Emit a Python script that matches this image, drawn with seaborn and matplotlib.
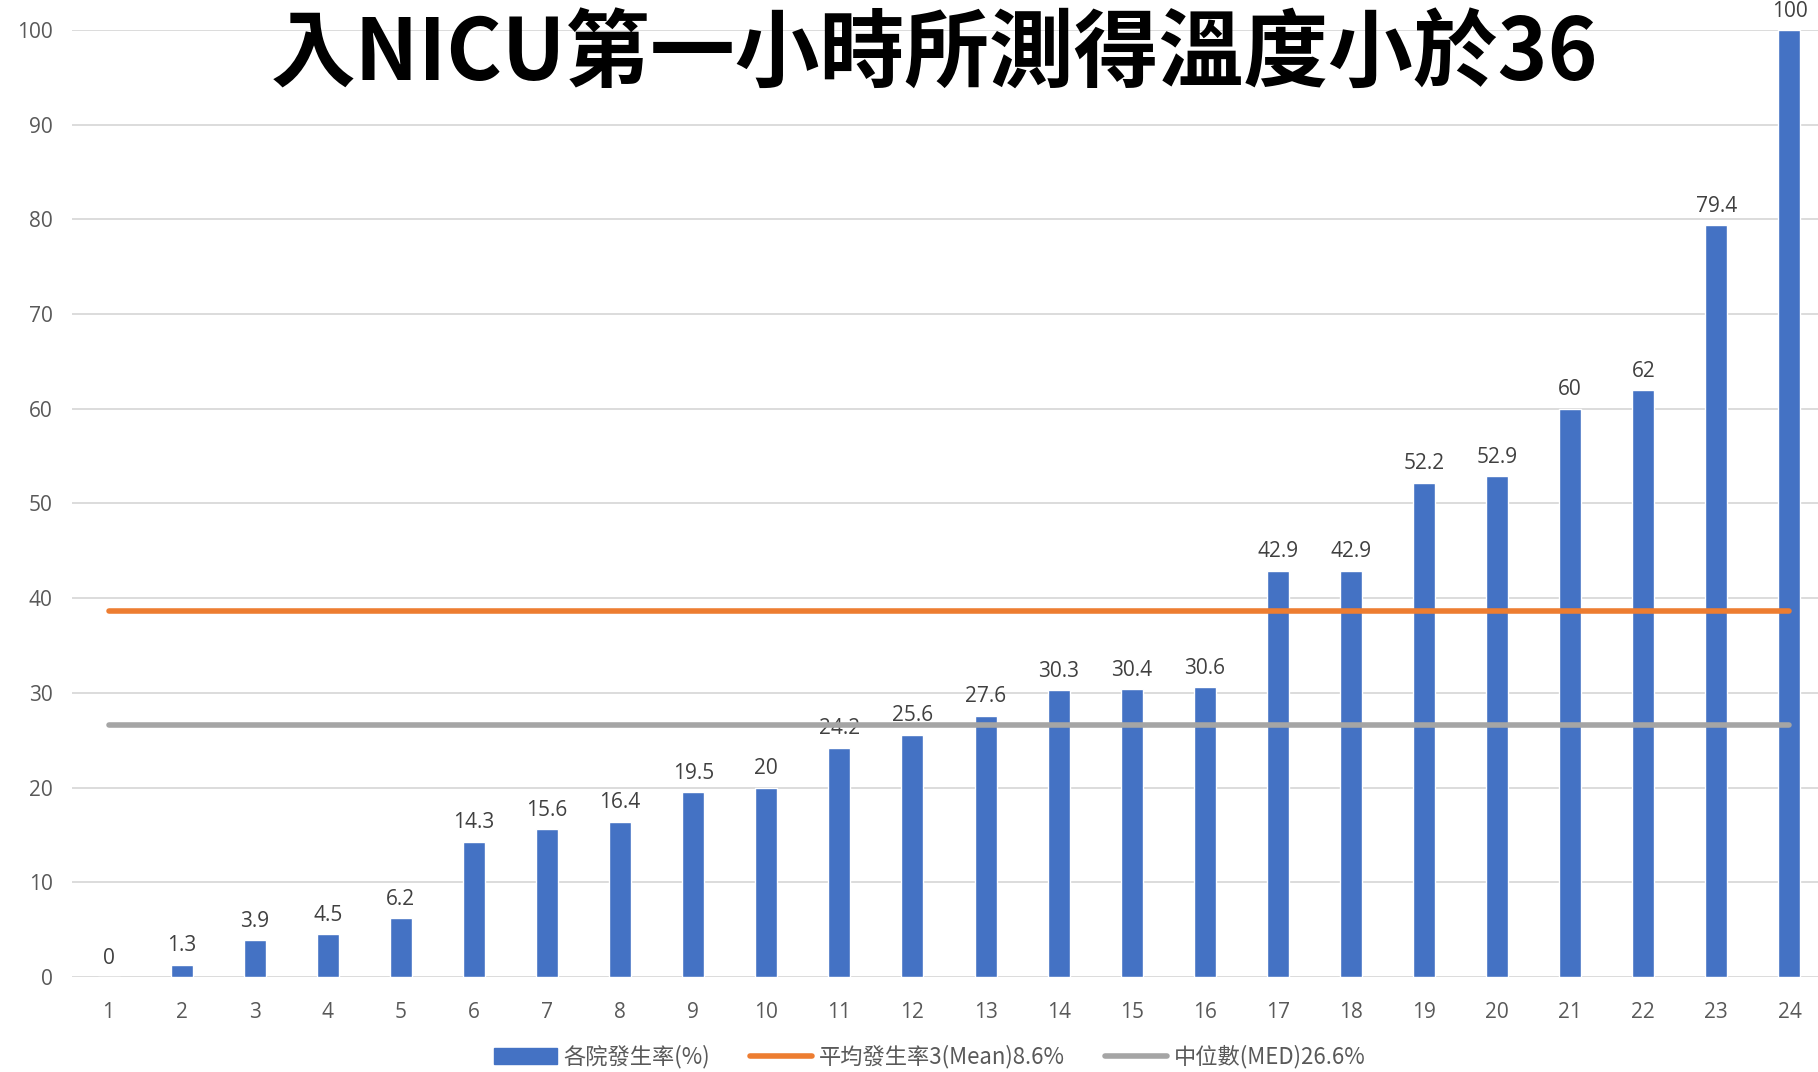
import matplotlib
matplotlib.use("Agg")
import matplotlib.pyplot as plt
import seaborn as sns
import pandas as pd
from matplotlib.patches import Patch
from matplotlib.lines import Line2D

categories = [str(i) for i in range(1, 25)]
rates = [0, 1.3, 3.9, 4.5, 6.2, 14.3, 15.6, 16.4, 19.5, 20, 24.2, 25.6, 27.6,
         30.3, 30.4, 30.6, 42.9, 42.9, 52.2, 52.9, 60, 62, 79.4, 100]
mean_rate = 38.6
median_rate = 26.6
title = "入NICU第一小時所測得溫度小於36"
legend_labels = ["各院發生率(%)", "平均發生率3(Mean)8.6%", "中位數(MED)26.6%"]

BLUE = "#4472C4"
ORANGE = "#ED7D31"
GRAY = "#A5A5A5"

sns.set_theme(style="white")
plt.rcParams["font.family"] = ["Noto Sans CJK TC", "DejaVu Sans"]

W, H = 1818, 1072
fig = plt.figure(figsize=(W / 100, H / 100), dpi=100)
left, right, top, bottom = 72, 1826, 30, 977
ax = fig.add_axes([left / W, 1 - bottom / H, (right - left) / W, (bottom - top) / H])

df = pd.DataFrame({"cat": categories, "rate": rates,
                   "mean": [mean_rate] * len(categories),
                   "median": [median_rate] * len(categories)})

sns.barplot(data=df, x="cat", y="rate", color=BLUE, width=0.30, ax=ax,
            saturation=1, zorder=3)
xs = list(range(len(categories)))
ax.plot(xs, df["mean"], color=ORANGE, lw=4, solid_capstyle="round", zorder=4)
ax.plot(xs, df["median"], color=GRAY, lw=4, solid_capstyle="round", zorder=4)

for x, v in zip(xs, rates):
    ax.annotate(f"{v:g}", (x, v), xytext=(0, 6), textcoords="offset points",
                ha="center", va="bottom", fontsize=15, color="#404040",
                family=["Open Sans", "DejaVu Sans"])

ax.set_xlim(-0.5, len(categories) - 0.5)
ax.set_ylim(0, 100)
ax.set_yticks(range(0, 101, 10))
ax.yaxis.grid(True, color="#D9D9D9", lw=1.3, zorder=0)
ax.set_axisbelow(True)
for s in ax.spines.values():
    s.set_visible(False)
ax.set_xlabel("")
ax.set_ylabel("")
ax.tick_params(axis="y", length=0, pad=14, labelsize=15, labelcolor="#595959")
ax.tick_params(axis="x", length=0, pad=18, labelsize=15, labelcolor="#595959")
for lab in ax.get_xticklabels() + ax.get_yticklabels():
    lab.set_family(["Open Sans", "DejaVu Sans"])

fig.text(934 / W, 1 - 55 / H, title, ha="center", va="center", fontsize=61,
         fontweight="bold", color="black",
         family=["Noto Sans CJK TC", "DejaVu Sans"])

handles = [Patch(facecolor=BLUE, edgecolor=BLUE),
           Line2D([0], [0], color=ORANGE, lw=4, solid_capstyle="round"),
           Line2D([0], [0], color=GRAY, lw=4, solid_capstyle="round")]
leg = fig.legend(handles, legend_labels, loc="center", ncol=3,
                 bbox_to_anchor=(930 / W, 1 - 1057 / H), frameon=False,
                 fontsize=16, handlelength=2.8, handleheight=0.7,
                 columnspacing=1.8, handletextpad=0.3, borderpad=0.2)
for t in leg.get_texts():
    t.set_color("#595959")

fig.savefig("out.png", dpi=100)
